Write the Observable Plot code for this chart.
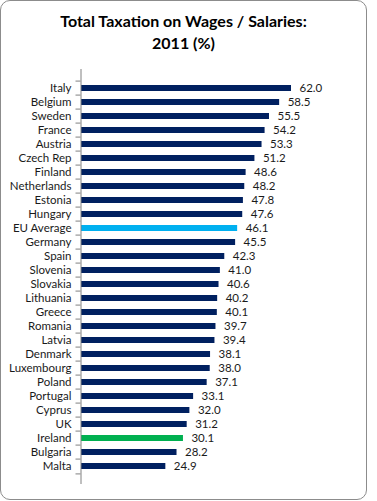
<!DOCTYPE html>
<html>
<head>
<meta charset="utf-8">
<script src="https://cdn.jsdelivr.net/npm/d3@7"></script>
<script src="https://cdn.jsdelivr.net/npm/@observablehq/plot@0.6"></script>
<style>
  html, body { margin: 0; padding: 0; background: #fff; }
  #frame { position: absolute; left: 0; top: 0; width: 367px; height: 500px; box-sizing: border-box;
           border: 1px solid #8c8c8c; border-radius: 10px; pointer-events: none; }
  #title { width: 367px; height: 60px; box-sizing: border-box; padding-top: 10px; text-align: center;
           font-family: Lato, sans-serif; font-weight: bold; font-size: 16px; line-height: 21.5px; color: #000; }
  #chart svg { display: block; }
</style>
</head>
<body>
<div id="frame"></div>
<div id="title">Total Taxation on Wages / Salaries:<br>2011 (%)</div>
<div id="chart"></div>
<script>
const countries = ["Italy","Belgium","Sweden","France","Austria","Czech Rep","Finland","Netherlands","Estonia","Hungary","EU Average","Germany","Spain","Slovenia","Slovakia","Lithuania","Greece","Romania","Latvia","Denmark","Luxembourg","Poland","Portugal","Cyprus","UK","Ireland","Bulgaria","Malta"];
const values = [62.0,58.5,55.5,54.2,53.3,51.2,48.6,48.2,47.8,47.6,46.1,45.5,42.3,41.0,40.6,40.2,40.1,39.7,39.4,38.1,38.0,37.1,33.1,32.0,31.2,30.1,28.2,24.9];
const euAverage = "EU Average";
const ireland = "Ireland";

const data = countries.map((c, i) => ({country: c, value: values[i]}));

const H = 440, MT = 9, MB = 16;
const n = countries.length;
const step = (H - MT - MB) / n;
const tickLen = 5;
const xMax = 70;
const W = 377, ML = 81, MR = 58.9;
const pxPerUnit = (W - ML - MR) / xMax;

const colorOf = c => c === euAverage ? "#00B0F0" : c === ireland ? "#00B050" : "#002060";

const chart = Plot.plot({
  width: W, height: H,
  marginLeft: ML, marginRight: MR, marginTop: MT, marginBottom: MB,
  style: {fontFamily: "Lato, sans-serif", fontSize: "11.5px", color: "#1a1a1a", background: "transparent"},
  x: {domain: [0, xMax], axis: null},
  y: {domain: countries, paddingInner: 0.6, paddingOuter: 0.3, tickSize: 0, tickPadding: 10, label: null},
  marks: [
    Plot.barX(data, {x: "value", y: "country", fill: d => colorOf(d.country)}),
    Plot.ruleX([0], {stroke: "#808080", dx: -0.5}),
    Plot.ruleY(countries, {y: d => d, x1: -tickLen / pxPerUnit, x2: 0, dy: -step / 2, dx: -0.5, stroke: "#808080"}),
    Plot.ruleY([countries[n - 1]], {y: d => d, x1: -tickLen / pxPerUnit, x2: 0, dy: step / 2, dx: -0.5, stroke: "#808080"}),
    Plot.text(data, {x: "value", y: "country", text: d => d.value.toFixed(1), dx: 8, textAnchor: "start", fill: "#1a1a1a"})
  ]
});
document.getElementById("chart").appendChild(chart);
</script>
</body>
</html>
